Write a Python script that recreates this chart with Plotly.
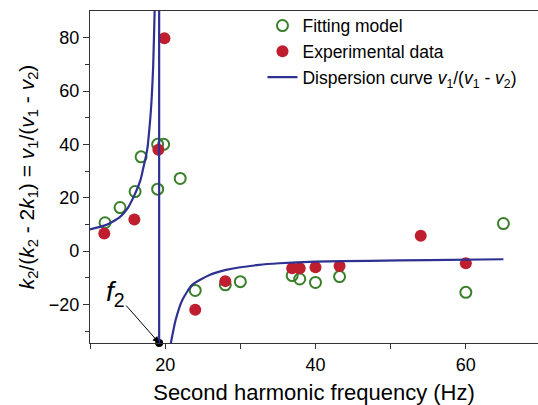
import plotly.graph_objects as go

# Fitting model (open circles)
fit_x = [12, 14, 16, 16.8, 19.0, 19.0, 19.8, 22, 24, 28, 30, 36.9, 37.9, 40, 43.2, 60, 65]
fit_y = [10.6, 16.3, 22.3, 35.3, 23.2, 40, 40, 27.2, -14.8, -12.7, -11.5, -9.2, -10.5, -11.8, -9.6, -15.5, 10.3]

# Experimental data (filled)
exp_x = [11.9, 15.9, 19.1, 19.9, 24, 28, 36.9, 37.9, 40, 43.2, 54, 60]
exp_y = [6.6, 11.8, 38, 79.8, -22, -11.3, -6.5, -6.5, -6.1, -5.6, 5.7, -4.6]

# Dispersion curve branches
left_x = [10, 12, 13, 14, 15, 15.8, 16.7, 17.0, 17.6, 18.0, 18.2, 18.4, 18.6, 18.7]
left_y = [8.1, 9.6, 11.0, 12.8, 16.0, 20.3, 26.5, 30.0, 37.8, 49, 57, 68.9, 90, 100]
right_x = [20.76, 21.4, 22.3, 23.6, 25.9, 28.1, 32.5, 35.2, 40, 47.2, 55, 65]
right_y = [-34.5, -25.8, -18.3, -12.7, -9.0, -7.1, -5.2, -4.6, -4.0, -3.7, -3.4, -3.1]

f2 = 19.2
x_range = [10, 69.6]
y_range = [-34.5, 90]

navy = "#2E3192"
red = "#BE1E2D"
green = "#3A7F2A"
font = "Liberation Sans, Arial, sans-serif"

fig = go.Figure()

fig.add_trace(go.Scatter(
    x=fit_x, y=fit_y, mode="markers", name="Fitting model",
    marker=dict(symbol="circle-open", size=11, color=green, line=dict(width=2, color=green)),
))
fig.add_trace(go.Scatter(
    x=exp_x, y=exp_y, mode="markers", name="Experimental data",
    marker=dict(symbol="circle", size=12, color=red, line=dict(width=0)),
))
fig.add_trace(go.Scatter(
    x=left_x, y=left_y, mode="lines", showlegend=False,
    line=dict(color=navy, width=2.2, shape="spline", smoothing=0.6),
))
fig.add_trace(go.Scatter(
    x=right_x, y=right_y, mode="lines",
    name="Dispersion curve <i>v</i><sub>1</sub>/(<i>v</i><sub>1</sub> - <i>v</i><sub>2</sub>)",
    line=dict(color=navy, width=2.2, shape="spline", smoothing=0.6),
))
# f2 marker dot
fig.add_trace(go.Scatter(
    x=[f2], y=[y_range[0]], mode="markers", showlegend=False, cliponaxis=False,
    marker=dict(symbol="circle", size=8, color="black"),
))

fig.add_shape(type="line", x0=f2, x1=f2, y0=0, y1=1, xref="x", yref="paper",
              line=dict(color=navy, width=2.2))

fig.add_annotation(
    x=f2, y=y_range[0], xref="x", yref="y",
    text="<i>f</i><sub>2</sub>", showarrow=True, arrowhead=2, arrowsize=1.3,
    arrowwidth=1, arrowcolor="black", ax=-44, ay=-50,
    font=dict(family=font, size=28, color="black"),
)

fig.update_layout(
    width=538, height=405,
    margin=dict(l=90, r=0, t=11, b=62),
    paper_bgcolor="white", plot_bgcolor="white",
    font=dict(family=font, size=18, color="black"),
    showlegend=True,
    legend=dict(x=0.385, y=1.01, xanchor="left", yanchor="top",
                bgcolor="rgba(0,0,0,0)", font=dict(size=17.5),
                tracegroupgap=0, itemwidth=30),
    xaxis=dict(
        range=x_range, showgrid=False, zeroline=False,
        showline=True, linecolor="#333", linewidth=1.2, mirror=True,
        ticks="outside", ticklen=5, tickcolor="#333",
        tickvals=[20, 40, 60], ticktext=["20", "40", "60"],
        minor=dict(tickvals=[10, 30, 50], ticks="outside", ticklen=5, tickcolor="#333"),
        title=dict(text="Second harmonic frequency (Hz)", font=dict(size=22), standoff=10),
    ),
    yaxis=dict(
        range=y_range, showgrid=False, zeroline=False,
        showline=True, linecolor="#333", linewidth=1.2,
        ticks="outside", ticklen=6, tickcolor="#333",
        tickvals=[-20, 0, 20, 40, 60, 80],
        minor=dict(tickvals=[-30, -10, 10, 30, 50, 70], ticks="outside", ticklen=4, tickcolor="#333"),
        title=dict(text="<i>k</i><sub>2</sub>/(<i>k</i><sub>2</sub> - 2<i>k</i><sub>1</sub>) = <i>v</i><sub>1</sub>/(<i>v</i><sub>1</sub> - <i>v</i><sub>2</sub>)",
                   font=dict(size=21), standoff=8),
    ),
)

fig.write_html("out.html")
